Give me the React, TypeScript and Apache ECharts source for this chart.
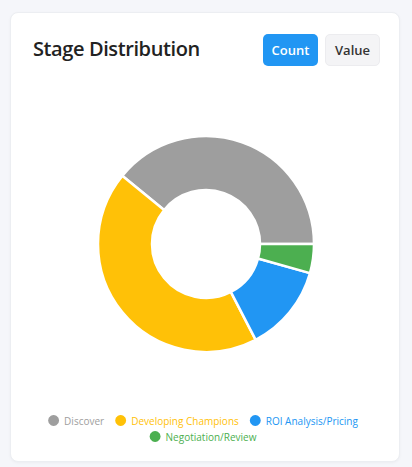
import React, { useEffect, useRef } from "react";
import * as echarts from "echarts";

const stages = ["Discover", "Developing Champions", "ROI Analysis/Pricing", "Negotiation/Review"];
const counts = [9, 10, 3, 1];
const colors = ["#9E9E9E", "#FFC107", "#2196F3", "#4CAF50"];

export default function App() {
  const ref = useRef<HTMLDivElement>(null);
  useEffect(() => {
    document.body.style.margin = "0";
    const chart = echarts.init(ref.current!, null, { renderer: "svg" });
    const legendItem = (i: number) => ({
      name: stages[i],
      itemStyle: { color: colors[i] },
      textStyle: { color: colors[i] },
    });
    const legendBase = {
      orient: "horizontal",
      left: "center",
      icon: "circle",
      itemWidth: 13,
      itemHeight: 13,
      itemGap: 9,
      textStyle: { fontSize: 10, fontFamily: "Open Sans", padding: [0, 0, 0, -1] },
      selectedMode: false,
    };
    chart.setOption({
      animation: false,
      color: colors,
      legend: [
        { ...legendBase, top: 327, data: [0, 1, 2].map(legendItem) },
        { ...legendBase, top: 343, data: [3].map(legendItem) },
      ],
      series: [
        {
          type: "pie",
          center: [195, 163],
          radius: [54, 108],
          startAngle: 0,
          clockwise: false,
          label: { show: false },
          labelLine: { show: false },
          emphasis: { disabled: true },
          itemStyle: { borderColor: "#fff", borderWidth: 2.5 },
          data: stages.map((s, i) => ({ name: s, value: counts[i], itemStyle: { color: colors[i] } })),
        },
      ],
    });
    return () => chart.dispose();
  }, []);

  const btn: React.CSSProperties = {
    position: "absolute",
    top: 21,
    width: 55,
    height: 32,
    borderRadius: 5,
    fontFamily: "Open Sans",
    fontSize: 13,
    fontWeight: 600,
    display: "flex",
    alignItems: "center",
    justifyContent: "center",
    boxSizing: "border-box",
  };

  return (
    <div style={{ position: "absolute", left: 0, top: 0, width: 412, height: 467, background: "#f5f6fa", overflow: "hidden" }}>
      <div
        style={{
          position: "absolute",
          left: 10,
          top: 12,
          width: 390,
          height: 450,
          background: "#fff",
          borderRadius: 8,
          border: "1px solid #eceef2",
          boxSizing: "border-box",
          boxShadow: "0 1px 3px rgba(0,0,0,0.04)",
        }}
      >
        <div
          style={{
            position: "absolute",
            left: 22,
            top: 22,
            fontFamily: "Open Sans",
            fontWeight: 600,
            fontSize: 20,
            color: "#222",
            lineHeight: "28px",
            letterSpacing: -0.4,
          }}
        >
          Stage Distribution
        </div>
        <div style={{ ...btn, left: 252, background: "#2196F3", color: "#fff" }}>Count</div>
        <div style={{ ...btn, left: 314, background: "#f4f4f6", color: "#333", border: "1px solid #ececef" }}>Value</div>
        <div ref={ref} style={{ position: "absolute", left: 0, top: 68, width: 382, height: 380 }} />
      </div>
    </div>
  );
}
